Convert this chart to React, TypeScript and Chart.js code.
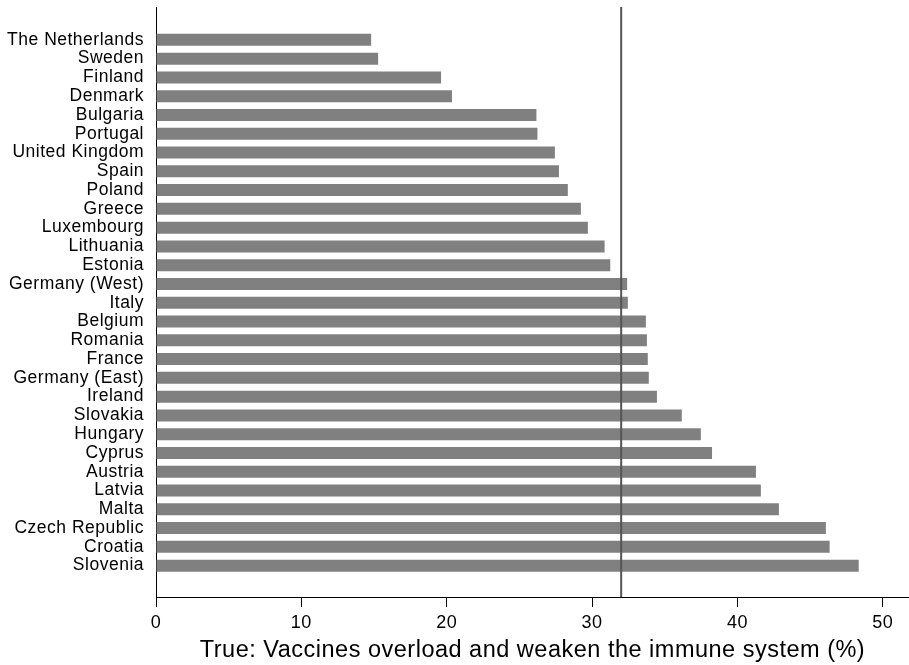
import React, { useEffect, useRef } from "react";
import { Chart, registerables } from "chart.js";

Chart.register(...registerables);

const countries = [
  "The Netherlands", "Sweden", "Finland", "Denmark", "Bulgaria", "Portugal",
  "United Kingdom", "Spain", "Poland", "Greece", "Luxembourg", "Lithuania",
  "Estonia", "Germany (West)", "Italy", "Belgium", "Romania", "France",
  "Germany (East)", "Ireland", "Slovakia", "Hungary", "Cyprus", "Austria",
  "Latvia", "Malta", "Czech Republic", "Croatia", "Slovenia",
];

const values = [
  14.8, 15.28, 19.61, 20.36, 26.17, 26.24,
  27.44, 27.72, 28.33, 29.23, 29.71, 30.86,
  31.25, 32.41, 32.46, 33.7, 33.77, 33.83,
  33.9, 34.46, 36.17, 37.48, 38.25, 41.27,
  41.61, 42.85, 46.08, 46.34, 48.34,
];

const referenceValue = 32.0;
const xTicks = [0, 10, 20, 30, 40, 50];
const xTitle = "True: Vaccines overload and weaken the immune system (%)";

const FONT = "'Liberation Sans', Arial, Helvetica, sans-serif";

const spacingPlugin = {
  id: "spacing",
  beforeDraw(chart: any) {
    try {
      (chart.ctx as any).letterSpacing = "0.5px";
    } catch (e) {}
  },
};

const refLinePlugin = {
  id: "refLine",
  afterDatasetsDraw(chart: any) {
    const { ctx, chartArea, scales } = chart;
    const x = scales.x.getPixelForValue(referenceValue);
    ctx.save();
    ctx.strokeStyle = "#555555";
    ctx.lineWidth = 2;
    ctx.beginPath();
    ctx.moveTo(x, chartArea.top);
    ctx.lineTo(x, chartArea.bottom);
    ctx.stroke();
    ctx.restore();
  },
};

export default function App() {
  const ref = useRef<HTMLCanvasElement | null>(null);

  useEffect(() => {
    document.body.style.margin = "0";
    if (!ref.current) return;
    const chart = new Chart(ref.current, {
      type: "bar",
      data: {
        datasets: [
          {
            data: values.map((v, i) => ({ x: v, y: i })),
            backgroundColor: "#808080",
            borderWidth: 0,
            barPercentage: 0.64,
            categoryPercentage: 1,
          },
        ],
      },
      plugins: [spacingPlugin, refLinePlugin],
      options: {
        indexAxis: "y",
        animation: false,
        responsive: false,
        maintainAspectRatio: false,
        layout: { padding: { top: 7, right: 0, left: 0, bottom: 0 } },
        plugins: {
          legend: { display: false },
          tooltip: { enabled: false },
        },
        scales: {
          x: {
            type: "linear",
            min: 0,
            max: 51.8,
            offset: false,
            afterBuildTicks: (scale: any) => {
              scale.ticks = xTicks.map((v) => ({ value: v }));
            },
            afterFit: (scale: any) => {
              scale.height = 68;
              scale.paddingLeft = 0;
              scale.paddingRight = 0;
            },
            grid: {
              drawOnChartArea: false,
              drawTicks: true,
              tickLength: 10,
              color: "#000000",
            },
            border: { display: true, color: "#000000", width: 1 },
            ticks: {
              color: "#000000",
              padding: 5,
              maxRotation: 0,
              font: { family: FONT, size: 18 },
            },
            title: {
              display: true,
              text: xTitle,
              color: "#000000",
              padding: { top: 0, bottom: 0 },
              font: { family: FONT, size: 23.5 },
            },
          },
          y: {
            type: "linear",
            reverse: true,
            offset: false,
            min: -1.75,
            max: 29.67,
            afterBuildTicks: (scale: any) => {
              scale.ticks = countries.map((_, i) => ({ value: i }));
            },
            afterFit: (scale: any) => {
              scale.width = 156;
              scale.paddingTop = 0;
              scale.paddingBottom = 0;
            },
            grid: { display: false, drawTicks: false, offset: false },
            border: { display: true, color: "#000000", width: 1 },
            ticks: {
              autoSkip: false,
              color: "#000000",
              padding: 12,
              font: { family: FONT, size: 17.5 },
              callback: (v: any) => countries[Math.round(Number(v))] ?? "",
            },
          },
        },
      },
    });
    return () => chart.destroy();
  }, []);

  return (
    <div style={{ width: 909, height: 665 }}>
      <canvas ref={ref} width={909} height={665} style={{ display: "block" }} />
    </div>
  );
}
